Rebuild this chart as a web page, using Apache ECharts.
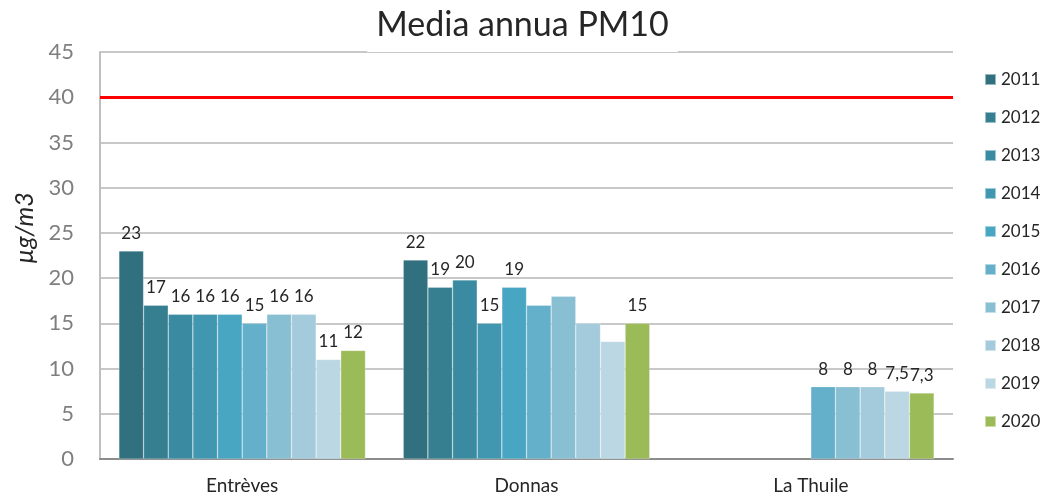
<!DOCTYPE html>
<html>
<head>
<meta charset="utf-8">
<script src="https://cdn.jsdelivr.net/npm/echarts@6/dist/echarts.min.js"></script>
<style>html,body{margin:0;padding:0;background:#fff}#c{width:1045px;height:496px}</style>
</head>
<body>
<div id="c"></div>
<script>
const TITLE = 'Media annua PM10';
const UNIT = 'µg/m3';
const CATEGORIES = ['Entrèves', 'Donnas', 'La Thuile'];
const YEARS = ['2011','2012','2013','2014','2015','2016','2017','2018','2019','2020'];
// values per year: [Entrèves, Donnas, La Thuile]
const V2011 = [23, 22, null];
const V2012 = [17, 19, null];
const V2013 = [16, 19.8, null];
const V2014 = [16, 15, null];
const V2015 = [16, 19, null];
const V2016 = [15, 17, 8];
const V2017 = [16, 18, 8];
const V2018 = [16, 15, 8];
const V2019 = [11, 13, 7.5];
const V2020 = [12, 15, 7.3];
// data labels shown in the reference (null = no label)
const L2011 = ['23', '22', null];
const L2012 = ['17', '19', null];
const L2013 = ['16', '20', null];
const L2014 = ['16', '15', null];
const L2015 = ['16', '19', null];
const L2016 = ['15', null, '8'];
const L2017 = ['16', null, '8'];
const L2018 = ['16', null, '8'];
const L2019 = ['11', null, '7,5'];
const L2020 = ['12', '15', '7,3'];
const LIMIT = 40;
const Y_TICKS = [0, 5, 10, 15, 20, 25, 30, 35, 40, 45];

const VALUES = [V2011,V2012,V2013,V2014,V2015,V2016,V2017,V2018,V2019,V2020];
const LABELS = [L2011,L2012,L2013,L2014,L2015,L2016,L2017,L2018,L2019,L2020];
const COLORS = ['#30707F','#367F91','#3A8BA1','#4197B0','#49A6C2','#64B0CA','#89BFD2','#A4CBDB','#BAD7E3','#9BBB59'];

const FONT = 'Lato, "Open Sans", sans-serif';

const series = YEARS.map((y, i) => ({
  name: y,
  type: 'bar',
  barGap: '0%',
  barCategoryGap: '13.3%',
  itemStyle: { color: COLORS[i], borderColor: 'rgba(255,255,255,0.5)', borderWidth: 0.5 },
  data: VALUES[i].map((v, j) => ({
    value: v === null ? '-' : v,
    label: { show: LABELS[i][j] !== null, formatter: LABELS[i][j] || '' }
  })),
  label: {
    position: 'top', distance: 9, color: '#262626', fontSize: 17, fontFamily: FONT
  },
  markLine: i === 0 ? {
    symbol: 'none', silent: true, label: { show: false },
    lineStyle: { color: '#FF0000', width: 3, type: 'solid' },
    data: [{ yAxis: LIMIT }]
  } : undefined
}));

const chart = echarts.init(document.getElementById('c'));
chart.setOption({
  animation: false,
  backgroundColor: '#fff',
  title: {
    text: TITLE, left: 'center', top: 2,
    backgroundColor: '#fff', padding: [6, 9, 10, 9],
    textStyle: { fontFamily: FONT, fontSize: 34, fontWeight: 'normal', color: '#262626' }
  },
  legend: {
    orient: 'vertical', left: 984, top: 71, itemGap: 21, padding: 0,
    itemWidth: 11, itemHeight: 11, icon: 'rect',
    data: YEARS,
    textStyle: { fontFamily: FONT, fontSize: 17, color: '#262626' }
  },
  grid: { left: 100, right: 92, top: 52, bottom: 37, containLabel: false },
  xAxis: {
    type: 'category', data: CATEGORIES,
    axisLine: { lineStyle: { color: '#8C8C8C', width: 2 } },
    axisTick: { show: false },
    axisLabel: { fontFamily: FONT, fontSize: 19, color: '#262626', margin: 17 }
  },
  yAxis: {
    type: 'value', min: Y_TICKS[0], max: Y_TICKS[Y_TICKS.length - 1], interval: 5,
    name: UNIT, nameLocation: 'middle', nameGap: 54,
    nameTextStyle: { fontFamily: FONT, fontSize: 25, fontStyle: 'italic', color: '#262626', padding: [0, 0, 0, 55] },
    axisLine: { show: true, lineStyle: { color: '#BFBFBF', width: 2 } },
    axisTick: { show: false },
    axisLabel: { fontFamily: FONT, fontSize: 22, color: '#7F7F7F', margin: 26 },
    splitLine: { lineStyle: { color: '#C8C8C8', width: 2 } }
  },
  series: series
});
</script>
</body>
</html>
